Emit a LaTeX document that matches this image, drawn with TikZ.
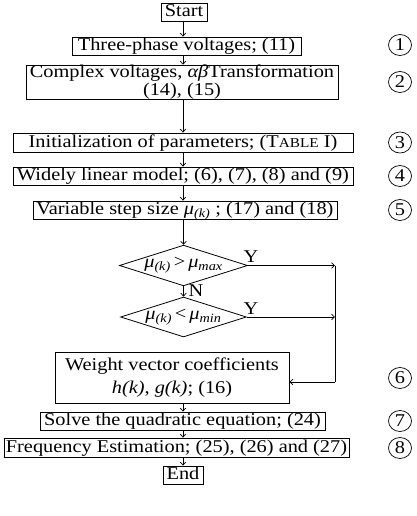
\documentclass[tikz,border=0pt]{standalone}
\usepackage{fontspec}
\setmainfont{Liberation Serif}[FakeStretch=1.13]
\usetikzlibrary{shapes.geometric,arrows.meta}
\newcommand\muk{\textit{μ}\textsubscript{\textit{(k)}}}
\begin{document}
\begin{tikzpicture}[x=1pt,y=-1pt,
  font=\fontsize{18pt}{16pt}\selectfont,
  every node/.style={inner sep=0pt},
  box/.style={draw,line width=0.8pt,inner xsep=2pt,inner ysep=0pt,text height=12.5pt,text depth=3.5pt,minimum height=18pt},
  tallbox/.style={draw,line width=0.8pt,inner xsep=2pt,inner ysep=0pt,align=center},
  dia/.style={draw,line width=0.8pt,diamond,shape aspect=3.15,minimum width=123pt,minimum height=39pt,inner sep=0pt},
  num/.style={draw,line width=0.7pt,ellipse,minimum width=23pt,minimum height=21pt,inner sep=0pt},
  lbl/.style={inner sep=0pt},
  arr/.style={line width=0.7pt,-{Straight Barb[length=3pt,width=5.5pt]}},
  ln/.style={line width=0.7pt}]
\useasboundingbox (0,0) rectangle (417,516);
\coordinate (ax) at (183,0);
\node[box,minimum width=46pt] (start) at (184,12) {Start};
\node[box,minimum width=229pt] (three) at (186.5,46) {Three-phase voltages; (11)};
\node[tallbox,minimum width=312pt,minimum height=31pt] (complex) at (182,82) {Complex voltages, \textit{αβ}Transformation\\(14), (15)};
\node[box,minimum width=340pt,minimum height=19pt] (init) at (183,142.5) {Initialization of parameters; (T{\fontsize{13.5pt}{13pt}\selectfont ABLE} I)};
\node[box,minimum width=340pt] (widely) at (183,176) {Widely linear model; (6), (7), (8) and (9)};
\node[box,minimum width=304pt] (var) at (185,210) {Variable step size \muk\ ; (17) and (18)};
\node[dia] (d1) at (183.5,265.5) {\textit{μ}\textsubscript{\textit{(k)}}\,>\,\textit{μ}\textsubscript{\textit{max}}};
\node[dia] (d2) at (183.5,317) {\textit{μ}\textsubscript{\textit{(k)}}\,<\,\textit{μ}\textsubscript{\textit{min}}};
\node[tallbox,minimum width=234pt,minimum height=51pt] (weight) at (172,377.5) {Weight vector coefficients\\[5pt]\textit{h(k)}, \textit{g(k)}; (16)};
\node[box,minimum width=285pt] (solve) at (182.5,421) {Solve the quadratic equation; (24)};
\node[box,minimum width=343pt,minimum height=19pt] (freq) at (176.5,447.5) {Frequency Estimation; (25), (26) and (27)};
\node[box,minimum width=40pt] (end) at (183,475) {End};
\node[num] (n1) at (400,45) {1};
\node[num] (n2) at (400,82) {2};
\node[num] (n3) at (400,142.5) {3};
\node[num] (n4) at (400,176) {4};
\node[num] (n5) at (400,210) {5};
\node[num] (n6) at (400,378) {6};
\node[num] (n7) at (400,421) {7};
\node[num] (n8) at (400,448) {8};
\node[lbl] (y1) at (251,257) {Y};
\node[lbl] (y2) at (251,309) {Y};
\node[lbl] (nn) at (196,291) {N};
\coordinate (r1) at (335,265.5);
\coordinate (r2) at (335,317);
\coordinate (r3) at (335,382);
\draw[arr] (start.south -| ax) -- (three.north -| ax);
\draw[arr] (three.south -| ax) -- (complex.north -| ax);
\draw[arr] (complex.south -| ax) -- (init.north -| ax);
\draw[arr] (init.south -| ax) -- (widely.north -| ax);
\draw[arr] (widely.south -| ax) -- (var.north -| ax);
\draw[arr] (var.south -| d1.north) -- (d1.north);
\draw[arr] (d1.south) -- (d2.north);
\draw[arr] (d1.east) -- (r1);
\draw[arr] (d2.east) -- (r2);
\draw[ln] (r1) -- (r3);
\draw[arr] (r3) -- (weight.east |- r3);
\draw[arr] (weight.south -| ax) -- (solve.north -| ax);
\draw[arr] (solve.south -| ax) -- (freq.north -| ax);
\draw[arr] (freq.south -| ax) -- (end.north -| ax);
\end{tikzpicture}
\end{document}
